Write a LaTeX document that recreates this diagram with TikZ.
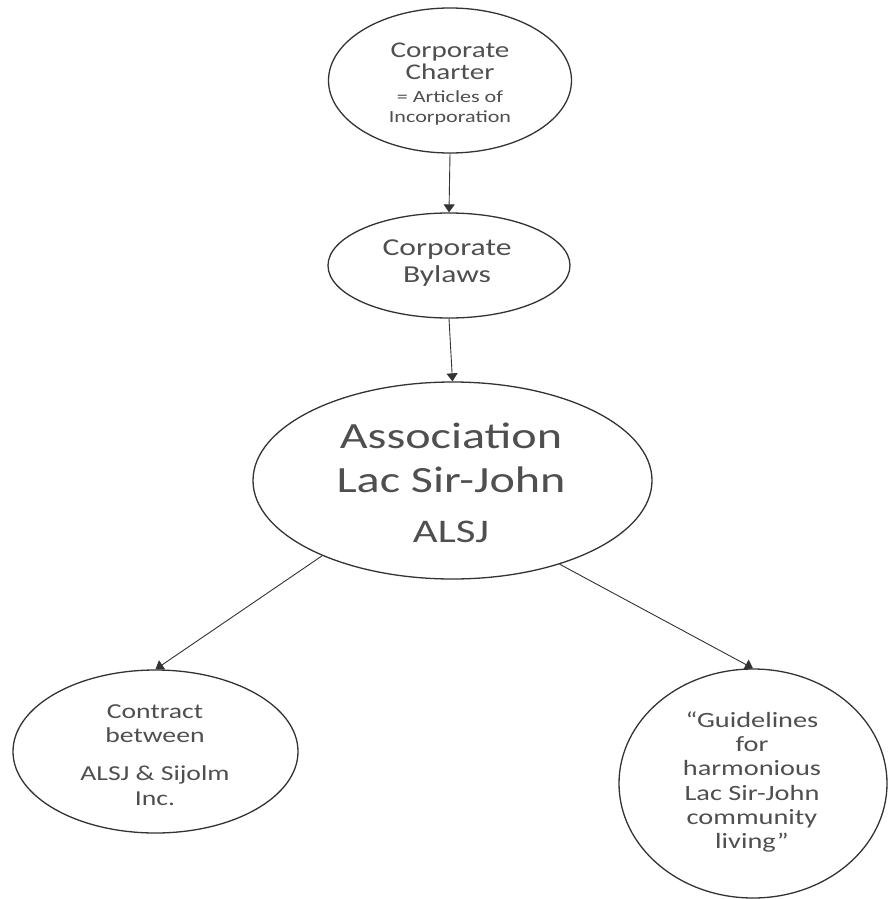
\documentclass[tikz,border=0pt]{standalone}
\usepackage{fontspec}
\setmainfont{Carlito}[FakeStretch=1.3]
\usetikzlibrary{shapes.geometric,arrows.meta}
\definecolor{txt}{HTML}{4F4F4F}
\definecolor{ln}{HTML}{333333}
\tikzset{
  oval/.style={ellipse,draw=ln,line width=1.3pt,inner sep=0pt},
  lbl/.style={anchor=base,inner sep=0pt,text=txt},
  conn/.style={draw=ln,line width=0.9pt,-{Triangle[length=8pt,width=11pt]}}
}
\newcommand{\fs}[1]{\fontsize{#1}{#1}\selectfont}
\begin{document}
\begin{tikzpicture}[x=1pt,y=-1pt]
\useasboundingbox[fill=white] (0,0) rectangle (888,899);
% ovals
\node[oval,minimum width=243pt,minimum height=145pt] (charter) at (450,80.5) {};
\node[oval,minimum width=242pt,minimum height=105pt] (bylaws) at (449,265.5) {};
\node[oval,minimum width=399pt,minimum height=197pt] (assoc) at (452.5,480.5) {};
\node[oval,minimum width=285pt,minimum height=163pt] (contract) at (155.5,751.5) {};
\node[oval,minimum width=268pt,minimum height=229pt] (guide) at (753,783.5) {};
% texts
\node[lbl,font=\fs{22.4}] (c1) at (450,57) {Corporate};
\node[lbl,font=\fs{22.4}] (c2) at (450,80) {Charter};
\node[lbl,font=\fs{17}] (c3) at (450,102) {= Articles of};
\node[lbl,font=\fs{17}] (c4) at (450,122) {Incorporation};
\node[lbl,font=\fs{24.3}] (b1) at (447,255) {Corporate};
\node[lbl,font=\fs{24.3}] (b2) at (447,282) {Bylaws};
\node[lbl,font=\fs{37}] (a1) at (451,448) {Association};
\node[lbl,font=\fs{37}] (a2) at (451,492) {Lac Sir-John};
\node[lbl,font=\fs{33}] (a3) at (451,542) {ALSJ};
\node[lbl,font=\fs{21.3}] (k1) at (155,718) {Contract};
\node[lbl,font=\fs{21.3}] (k2) at (155,742) {between};
\node[lbl,font=\fs{21.3}] (k3) at (155,780) {ALSJ \& Sijolm};
\node[lbl,font=\fs{21.3}] (k4) at (155,805) {Inc.};
\node[lbl,font=\fs{21.8}] (g1) at (752,727) {“Guidelines};
\node[lbl,font=\fs{21.8}] (g2) at (752,751) {for};
\node[lbl,font=\fs{21.8}] (g3) at (752,775) {harmonious};
\node[lbl,font=\fs{21.8}] (g4) at (752,800) {Lac Sir-John};
\node[lbl,font=\fs{21.8}] (g5) at (752,824) {community};
\node[lbl,font=\fs{21.8}] (g6) at (752,848) {living”};
% connectors
\draw[conn] (charter.south) -- (bylaws.north);
\draw[conn] (bylaws.south) -- (assoc.north);
\draw[conn] (assoc.210) -- (contract.north);
\draw[conn] (assoc.322) -- (guide.north);
\end{tikzpicture}
\end{document}
